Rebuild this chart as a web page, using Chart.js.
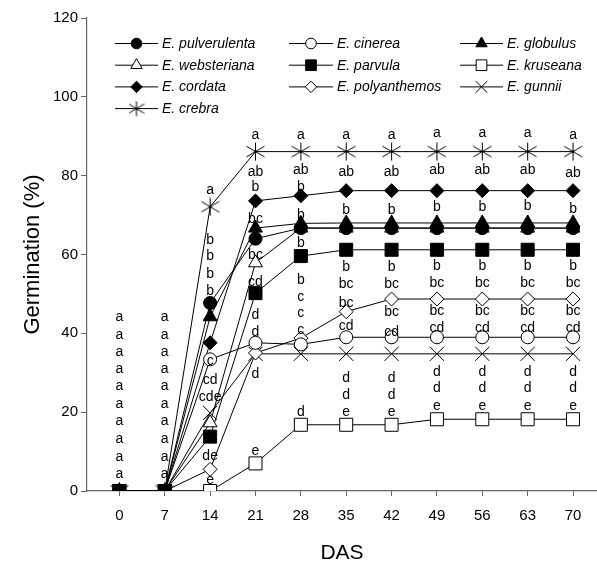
<!DOCTYPE html>
<html>
<head>
<meta charset="utf-8">
<script src="https://cdn.jsdelivr.net/npm/chart.js@4/dist/chart.umd.min.js"></script>
<style>
html,body{margin:0;padding:0;background:#fff;}
canvas{display:block;}
</style>
</head>
<body>
<canvas id="c" width="597" height="562"></canvas>
<script>
// ---------- data ----------
const days = [0, 7, 14, 21, 28, 35, 42, 49, 56, 63, 70];
const yTicks = [0, 20, 40, 60, 80, 100, 120];
const speciesNames = ['E. pulverulenta', 'E. cinerea', 'E. globulus', 'E. websteriana', 'E. parvula',
  'E. kruseana', 'E. cordata', 'E. polyanthemos', 'E. gunnii', 'E. crebra'];
const pulverulenta = [0, 0, 47.7, 64.0, 66.7, 66.7, 66.7, 66.7, 66.7, 66.7, 66.7];
const cinerea      = [0, 0, 33.4, 37.6, 37.2, 39.0, 39.0, 39.0, 39.0, 39.0, 39.0];
const globulus     = [0, 0, 44.2, 66.7, 67.9, 68.0, 68.0, 68.0, 68.0, 68.0, 68.0];
const websteriana  = [0, 0, 17.3, 57.9, 66.7, 66.7, 66.7, 66.7, 66.7, 66.7, 66.7];
const parvula      = [0, 0, 13.8, 50.2, 59.6, 61.2, 61.2, 61.2, 61.2, 61.2, 61.2];
const kruseana     = [0, 0, 0, 7.0, 16.8, 16.8, 16.8, 18.2, 18.2, 18.2, 18.2];
const cordata      = [0, 0, 37.6, 73.6, 74.9, 76.2, 76.2, 76.2, 76.2, 76.2, 76.2];
const polyanthemos = [0, 0, 5.5, 35.0, 38.8, 45.5, 48.7, 48.7, 48.7, 48.7, 48.7];
const gunnii       = [0, 0, 19.8, 34.8, 34.8, 34.8, 34.8, 34.8, 34.8, 34.8, 34.8];
const crebra       = [0, 0, 72.1, 86.1, 86.1, 86.1, 86.1, 86.1, 86.1, 86.1, 86.1];

// significance letters per day, and the germination level (%) at which each is written
const sigLetters = [
  ['a','a','a','a','a','a','a','a','a','a'],
  ['a','a','a','a','a','a','a','a','a','a'],
  ['a','b','b','b','b','c','cd','cde','de','e'],
  ['a','ab','b','bc','bc','cd','d','d','d','e'],
  ['a','ab','b','b','b','b','c','c','c','d'],
  ['a','ab','b','b','bc','bc','cd','d','d','e'],
  ['a','ab','b','b','bc','bc','cd','d','d','e'],
  ['a','ab','b','b','bc','bc','cd','d','d','e'],
  ['a','ab','b','b','bc','bc','cd','d','d','e'],
  ['a','ab','b','b','bc','bc','cd','d','d','e'],
  ['a','ab','b','b','bc','bc','cd','d','d','e']
];
const sigLevels = [
  [44.0, 39.6, 35.2, 30.9, 26.5, 22.1, 17.6, 13.2, 8.7, 4.3],
  [44.0, 39.6, 35.2, 30.9, 26.5, 22.1, 17.6, 13.2, 8.7, 4.3],
  [76.4, 63.7, 59.5, 55.1, 50.8, 33.0, 28.2, 23.9, 8.9, 2.8],
  [90.4, 81.0, 77.2, 69.0, 59.9, 53.1, 44.7, 40.3, 29.7, 10.0],
  [90.4, 81.5, 77.2, 70.1, 62.9, 53.6, 49.3, 45.1, 40.9, 19.9],
  [90.4, 80.8, 71.3, 56.8, 52.5, 47.6, 41.7, 28.6, 24.4, 19.9],
  [90.4, 80.8, 71.3, 56.8, 52.5, 45.3, 40.4, 28.6, 24.4, 19.9],
  [90.9, 81.3, 71.9, 57.1, 52.8, 45.7, 41.2, 30.2, 26.0, 21.6],
  [90.9, 81.3, 71.9, 57.1, 52.8, 45.7, 41.2, 30.2, 26.0, 21.6],
  [90.9, 81.3, 72.2, 57.1, 52.8, 45.7, 41.2, 30.2, 26.0, 21.6],
  [90.4, 80.6, 71.5, 57.1, 52.8, 45.7, 41.2, 30.2, 26.0, 21.6]
];

// ---------- drawing ----------
const FONT = "'Liberation Sans', Arial, Helvetica, sans-serif";

function makeAsterisk(size) {
  const c = document.createElement('canvas');
  c.width = size; c.height = size;
  const g = c.getContext('2d');
  const m = size / 2;
  g.strokeStyle = '#000'; g.lineWidth = 1;
  g.beginPath();
  g.moveTo(m, 0.5); g.lineTo(m, size - 0.5);
  g.moveTo(0.5, size * 0.22); g.lineTo(size - 0.5, size * 0.78);
  g.moveTo(0.5, size * 0.78); g.lineTo(size - 0.5, size * 0.22);
  g.stroke();
  g.fillStyle = '#000';
  g.beginPath(); g.arc(m, m, 1.3, 0, Math.PI * 2); g.fill();
  return c;
}
const asteriskBig = makeAsterisk(19);
const asteriskSmall = makeAsterisk(16);

const seriesData = [pulverulenta, cinerea, globulus, websteriana, parvula, kruseana, cordata, polyanthemos, gunnii, crebra];
const styles = [
  {ps:'circle', r:6.5, fill:'#000'},
  {ps:'circle', r:6.5, fill:'#fff'},
  {ps:'triangle', r:8, fill:'#000'},
  {ps:'triangle', r:8, fill:'#fff'},
  {ps:'rect', r:9.2, fill:'#000'},
  {ps:'rect', r:9.2, fill:'#fff'},
  {ps:'rectRot', r:7, fill:'#000'},
  {ps:'rectRot', r:7, fill:'#fff'},
  {ps:'crossRot', r:10, fill:'#fff'},
  {ps:asteriskBig, r:9, fill:'#000'}
];

const datasets = seriesData.map((arr, i) => ({
  label: speciesNames[i],
  data: days.map((d, k) => ({x: d, y: arr[k]})),
  borderColor: '#000',
  borderWidth: 1,
  pointStyle: styles[i].ps,
  pointRadius: styles[i].r,
  pointHoverRadius: styles[i].r,
  pointBackgroundColor: styles[i].fill,
  pointBorderColor: '#000',
  pointBorderWidth: 1,
  tension: 0,
  fill: false
}));

const lettersPlugin = {
  id: 'letters',
  afterDatasetsDraw(chart) {
    const ctx = chart.ctx;
    const xs = chart.scales.x, ys = chart.scales.y;
    ctx.save();
    ctx.fillStyle = '#000';
    ctx.font = '14px ' + FONT;
    ctx.textAlign = 'center';
    ctx.textBaseline = 'middle';
    sigLetters.forEach((list, di) => {
      const x = xs.getPixelForValue(days[di]);
      list.forEach((t, j) => {
        ctx.fillText(t, x, ys.getPixelForValue(sigLevels[di][j]));
      });
    });
    ctx.restore();
  }
};

const legendPlugin = {
  id: 'gridLegend',
  afterDraw(chart) {
    const ctx = chart.ctx;
    const colLine = [[115, 158], [289, 333], [460, 503]];
    const rowY = [43.5, 65.2, 86.9, 108.6];
    ctx.save();
    chart.data.datasets.forEach((ds, i) => {
      const col = i % 3, row = Math.floor(i / 3);
      const [x0, x1] = colLine[col];
      const y = rowY[row];
      ctx.strokeStyle = '#000'; ctx.lineWidth = 1;
      ctx.beginPath(); ctx.moveTo(x0, y); ctx.lineTo(x1, y); ctx.stroke();
      ctx.fillStyle = ds.pointBackgroundColor;
      ctx.strokeStyle = '#000'; ctx.lineWidth = 1;
      const ps = (i === 9) ? asteriskSmall : ds.pointStyle;
      Chart.helpers.drawPoint(ctx, {pointStyle: ps, radius: ds.pointRadius * 0.82, rotation: 0, borderWidth: 1}, (x0 + x1) / 2, y);
      ctx.fillStyle = '#000';
      ctx.font = 'italic 14px ' + FONT;
      ctx.textAlign = 'left';
      ctx.textBaseline = 'middle';
      ctx.fillText(ds.label, x1 + 4, y + 0.5);
    });
    ctx.restore();
  }
};

new Chart(document.getElementById('c'), {
  type: 'line',
  data: { datasets },
  options: {
    responsive: false,
    animation: false,
    devicePixelRatio: 1,
    layout: { autoPadding: false, padding: { top: 18, right: 0, left: 0, bottom: 0 } },
    plugins: { legend: { display: false }, tooltip: { enabled: false } },
    scales: {
      x: {
        type: 'linear',
        min: -5,
        max: 73.7,
        afterBuildTicks(s) { s.ticks = days.map(v => ({value: v})); },
        afterFit(s) { s.height = 71; },
        grid: { drawOnChartArea: false, drawTicks: true, tickLength: 5, color: '#666' },
        border: { color: '#666', width: 1.2 },
        ticks: { color: '#000', font: { family: FONT, size: 15 }, padding: 11, maxRotation: 0, autoSkip: false },
        title: { display: true, text: 'DAS', color: '#000', font: { family: FONT, size: 21, lineHeight: 0.8 }, padding: { top: 0, bottom: 0 } }
      },
      y: {
        min: 0,
        max: 120,
        afterBuildTicks(s) { s.ticks = yTicks.map(v => ({value: v})); },
        afterFit(s) { s.width = 87; },
        grid: { drawOnChartArea: false, drawTicks: true, tickLength: 6, color: '#666' },
        border: { color: '#666', width: 1.2 },
        ticks: { color: '#000', font: { family: FONT, size: 15 }, padding: 3 },
        title: { display: true, text: 'Germination (%)', color: '#000', font: { family: FONT, size: 22 }, padding: { top: 20, bottom: 0 } }
      }
    }
  },
  plugins: [lettersPlugin, legendPlugin]
});
</script>
</body>
</html>
